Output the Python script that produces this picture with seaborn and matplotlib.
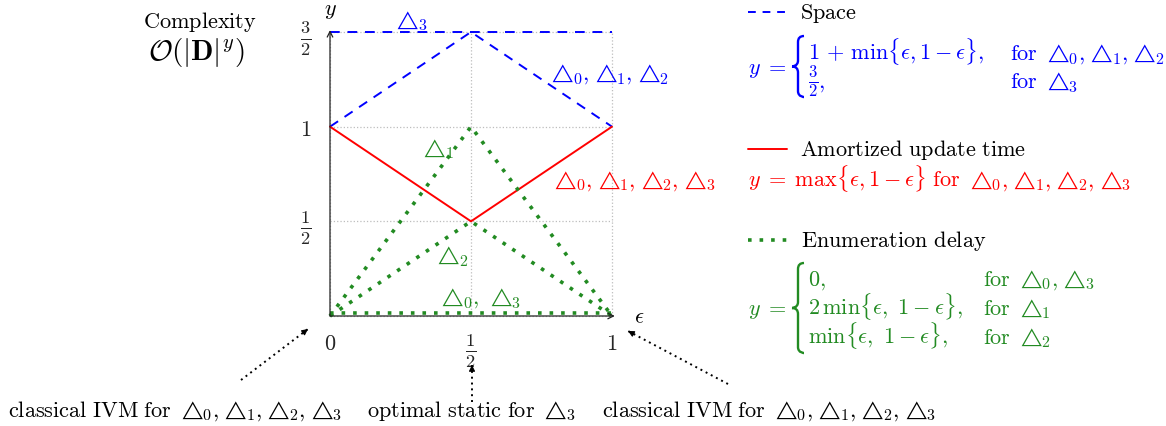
"""
Complexity trade-off chart (space, update time, enumeration delay)
"""

import numpy as np
import pandas as pd
import matplotlib
matplotlib.use("Agg")
import matplotlib.pyplot as plt
from matplotlib.lines import Line2D
from matplotlib.path import Path
from matplotlib.patches import PathPatch, FancyArrowPatch
import seaborn as sns

# data
eps = [0.0, 0.5, 1.0]
space_tri012 = [1.0, 1.5, 1.0]
space_tri3 = [1.5, 1.5, 1.5]
update_all = [1.0, 0.5, 1.0]
delay_tri1 = [0.0, 1.0, 0.0]
delay_tri2 = [0.0, 0.5, 0.0]
delay_tri03 = [0.0, 0.0, 0.0]

x_ticks = [0.0, 0.5, 1.0]
x_ticklabels = ["$0$", r"$\frac{1}{2}$", "$1$"]
y_ticks = [0.5, 1.0, 1.5]
y_ticklabels = [r"$\frac{1}{2}$", "$1$", r"$\frac{3}{2}$"]

BLUE = "#0000FF"
RED = "#FF0000"
GREEN = "#228B22"

W, H = 1166, 427
TXT = 16    # texto e fórmulas
TRI = 13.5  # triângulos
SUB = 11.5  # índices
FRAC = 19   # frações nos eixos

sns.set_style("white")
plt.rcParams["mathtext.fontset"] = "cm"
plt.rcParams["font.family"] = ["DejaVu Serif"]


def fx(x):
    return x / W


def fy(y):
    return 1 - y / H


def tris(idx, gap=3):
    """Segmentos para a lista de triângulos com índice"""
    partes = []
    for k, i in enumerate(idx):
        if k:
            partes += [(",", TXT), gap]
        partes += [(r"$\triangle$", TRI), -1.5, ("$%d$" % i, SUB, 3.5)]
    return partes


def rich(fig, x, y, partes, color="black", ha="left"):
    """Escreve segmentos lado a lado na linha de base y (pixels)"""
    r = fig.canvas.get_renderer()
    textos = []
    pos = 0.0
    for p in partes:
        if isinstance(p, (int, float)):
            pos += p
            continue
        s, size = p[0], p[1]
        dy = p[2] if len(p) > 2 else 0
        if not s.startswith("$"):
            s = "$" + s + "$"
        t = fig.text(fx(x + pos), fy(y + dy), s, color=color, fontsize=size,
                     ha="left", va="baseline")
        pos += t.get_window_extent(renderer=r).width
        textos.append(t)
    if ha == "center":
        for t in textos:
            x0, y0 = t.get_position()
            t.set_position((x0 - fx(pos / 2), y0))


def chave(fig, x, top, bottom, color):
    """Desenha uma chave { fina em coordenadas de pixel"""
    mid = (top + bottom) / 2
    xm, xt, xo = x, x - 6, x + 6
    pts = [
        (xo, top), (xm, top), (xm, top + 6),
        (xm, mid - 6),
        (xm, mid), (xt, mid), (xt, mid),
        (xm, mid), (xm, mid + 6),
        (xm, bottom - 6),
        (xm, bottom), (xo, bottom), (xo, bottom),
    ]
    codes = [Path.MOVETO, Path.CURVE3, Path.CURVE3, Path.LINETO,
             Path.CURVE4, Path.CURVE4, Path.CURVE4,
             Path.CURVE3, Path.CURVE3, Path.LINETO,
             Path.CURVE4, Path.CURVE4, Path.CURVE4]
    verts = [(fx(a), fy(b)) for a, b in pts]
    fig.add_artist(PathPatch(Path(verts, codes), facecolor="none",
                             edgecolor=color, linewidth=1.7,
                             transform=fig.transFigure))


fig = plt.figure(figsize=(W / 100, H / 100), dpi=100)
ax = fig.add_axes([fx(330), fy(317), (612 - 330) / W, (317 - 33) / H])

df = pd.DataFrame(
    {
        "eps": eps,
        "space_tri012": space_tri012,
        "space_tri3": space_tri3,
        "update_all": update_all,
        "delay_tri1": delay_tri1,
        "delay_tri2": delay_tri2,
        "delay_tri03": delay_tri03,
    }
)

# Grade pontilhada
for v in x_ticks:
    ax.axvline(v, color="#bdbdbd", linestyle=":", linewidth=0.9, zorder=0,
               clip_on=False)
for v in [0.0] + y_ticks:
    ax.axhline(v, color="#bdbdbd", linestyle=":", linewidth=0.9, zorder=0,
               clip_on=False)

# Curvas
estilos = [
    ("space_tri012", BLUE, (0, (5, 4)), 1.4),
    ("space_tri3", BLUE, (0, (5, 4)), 1.4),
    ("update_all", RED, "-", 1.4),
    ("delay_tri1", GREEN, (0, (1, 2.2)), 2.6),
    ("delay_tri2", GREEN, (0, (1, 2.2)), 2.6),
]
for col, cor, ls, lw in estilos:
    sns.lineplot(data=df, x="eps", y=col, color=cor, linestyle=ls,
                 linewidth=lw, ax=ax, clip_on=False, zorder=3)
sns.lineplot(x=df["eps"], y=df["delay_tri03"] + 0.018, color=GREEN,
             linestyle=(0, (1, 2.2)), linewidth=2.6, ax=ax, clip_on=False,
             zorder=3)

ax.set_xlim(0, 1)
ax.set_ylim(0, 1.5)
for s in ax.spines.values():
    s.set_visible(False)
ax.set_xlabel("")
ax.set_ylabel("")
ax.set_xticks(x_ticks)
ax.set_xticklabels(x_ticklabels, fontsize=TXT)
ax.set_yticks(y_ticks)
ax.set_yticklabels(y_ticklabels, fontsize=TXT)
for lab in ax.get_xticklabels() + ax.get_yticklabels():
    if "frac" in lab.get_text():
        lab.set_fontsize(FRAC)
ax.tick_params(axis="x", length=3, width=0.6, color="#555555",
               direction="inout", pad=10)
ax.tick_params(axis="y", length=3, width=0.6, color="#555555",
               direction="inout", pad=12)

# Eixos com setas
ax.annotate("", xy=(1.01, 0), xytext=(0, 0), xycoords="data",
            arrowprops=dict(arrowstyle="->", lw=0.9, color="#222222",
                            shrinkA=0, shrinkB=0), annotation_clip=False)
ax.annotate("", xy=(0, 1.51), xytext=(0, 0), xycoords="data",
            arrowprops=dict(arrowstyle="->", lw=0.9, color="#222222",
                            shrinkA=0, shrinkB=0), annotation_clip=False)
rich(fig, 330, 15, [("y", TXT)], ha="center")
rich(fig, 639, 323, [(r"\epsilon", TXT)], ha="center")

rich(fig, 200, 28, [(r"\mathrm{Complexity}", TXT)], ha="center")
rich(fig, 196, 60, [(r"\mathcal{O}(|\mathbf{D}|^y)", 21)], ha="center")

# Rótulos das curvas
rich(fig, 393, 27, tris([3]), BLUE)
rich(fig, 548, 80, tris([0, 1, 2]), BLUE)
rich(fig, 420, 155, tris([1]), GREEN)
rich(fig, 551, 187, tris([0, 1, 2, 3]), RED)
rich(fig, 434, 262, tris([2]), GREEN)
rich(fig, 438, 304, tris([0, 3], gap=8), GREEN)

# Legenda à direita
fig.add_artist(Line2D([fx(748), fx(787)], [fy(13), fy(13)], color=BLUE,
                      linestyle=(0, (4, 3.5)), linewidth=1.4,
                      transform=fig.transFigure))
rich(fig, 800, 19, [(r"\mathrm{Space}", TXT)])
rich(fig, 748, 74, [(r"y\;=", TXT)], BLUE)
chave(fig, 798, 37, 98, BLUE)
rich(fig, 808, 60, [(r"1\,+\,\min\{\epsilon,1-\epsilon\},", TXT)], BLUE)
rich(fig, 1010, 60, [(r"\mathrm{for}", TXT), 6] + tris([0, 1, 2]), BLUE)
rich(fig, 808, 88, [(r"\frac{3}{2}", 17), (",", TXT)], BLUE)
rich(fig, 1010, 88, [(r"\mathrm{for}", TXT), 6] + tris([3]), BLUE)

fig.add_artist(Line2D([fx(748), fx(787)], [fy(150), fy(150)], color=RED,
                      linewidth=1.4, transform=fig.transFigure))
rich(fig, 800, 156, [(r"\mathrm{Amortized\ update\ time}", TXT)])
rich(fig, 748, 187,
     [(r"y\;=\;\max\{\epsilon,1-\epsilon\}\ \mathrm{for}", TXT), 6]
     + tris([0, 1, 2, 3]), RED)

fig.add_artist(Line2D([fx(748), fx(787)], [fy(241), fy(241)], color=GREEN,
                      linestyle=(0, (1, 2.2)), linewidth=2.6,
                      transform=fig.transFigure))
rich(fig, 801, 247, [(r"\mathrm{Enumeration\ delay}", TXT)])
rich(fig, 748, 315, [(r"y\;=", TXT)], GREEN)
chave(fig, 798, 264, 354, GREEN)
rich(fig, 808, 286, [("0,", TXT)], GREEN)
rich(fig, 808, 315, [(r"2\,\min\{\epsilon,\ 1-\epsilon\},", TXT)], GREEN)
rich(fig, 808, 344, [(r"\min\{\epsilon,\ 1-\epsilon\},", TXT)], GREEN)
rich(fig, 983, 286, [(r"\mathrm{for}", TXT), 6] + tris([0, 3]), GREEN)
rich(fig, 983, 315, [(r"\mathrm{for}", TXT), 6] + tris([1]), GREEN)
rich(fig, 983, 344, [(r"\mathrm{for}", TXT), 6] + tris([2]), GREEN)

# Anotações inferiores
ivm = [(r"\mathrm{classical\ IVM\ for}", TXT), 6] + tris([0, 1, 2, 3])
rich(fig, 8, 417, ivm)
rich(fig, 367, 417, [(r"\mathrm{optimal\ static\ for}", TXT), 6] + tris([3]))
rich(fig, 602, 417, ivm)

setas = [((241, 381), (308, 330)), ((472, 403), (472, 366)),
         ((728, 385), (628, 332))]
for (x0, y0), (x1, y1) in setas:
    fig.add_artist(Line2D([fx(x0), fx(x1)], [fy(y0), fy(y1)], color="black",
                          linestyle=(0, (1, 2)), linewidth=1.4,
                          transform=fig.transFigure))
    d = np.array([x1 - x0, y1 - y0], dtype=float)
    d /= np.hypot(*d)
    xs, ys = x1 - 7 * d[0], y1 - 7 * d[1]
    fig.add_artist(FancyArrowPatch(
        (fx(xs), fy(ys)), (fx(x1), fy(y1)), transform=fig.transFigure,
        arrowstyle="-|>", mutation_scale=9, color="black", lw=0.8,
        shrinkA=0, shrinkB=0))

fig.savefig("out.png", dpi=100)
